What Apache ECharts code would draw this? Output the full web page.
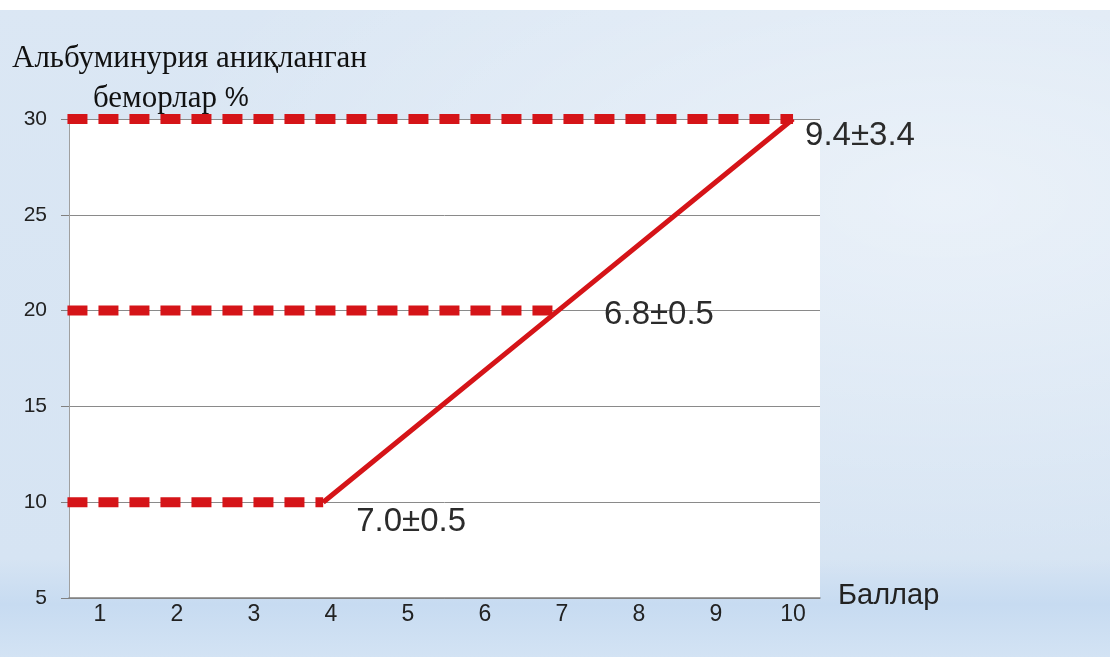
<!DOCTYPE html>
<html>
<head>
<meta charset="utf-8">
<script src="https://cdn.jsdelivr.net/npm/echarts@6/dist/echarts.min.js"></script>
<style>
  html, body { margin: 0; padding: 0; }
  #wrap {
    position: relative;
    width: 1110px;
    height: 657px;
    background:
      radial-gradient(ellipse at 85% 30%, rgba(255,255,255,0.45), rgba(255,255,255,0) 60%),
      linear-gradient(180deg, #dbe7f4 0%, #d6e4f3 85%, #c7dbf1 92%, #d3e3f4 100%);
    overflow: hidden;
  }
  #topband {
    position: absolute; left: 0; top: 0; width: 1110px; height: 10px; background: #fff;
  }
  #chart { position: absolute; left: 0; top: 0; width: 1110px; height: 657px; }
</style>
</head>
<body>
<div id="wrap">
  <div id="topband"></div>
  <div id="chart"></div>
</div>
<script>
// ось X (баллы) и Y (%)
let xTicks = [1, 2, 3, 4, 5, 6, 7, 8, 9, 10];
let yMin = 5, yMax = 30, yStep = 5;

// основная линия
let mainLine = [[3.9, 10], [6.95, 20], [10, 30]];
// пунктирные уровни
let dashLevels = [10, 20, 30];
let dashStart = 0.58;
let dashEnd = [3.9, 6.95, 10];
// подписи у точек
let pointLabels = ['7.0±0.5', '6.8±0.5', '9.4±3.4'];

var chart = echarts.init(document.getElementById('chart'));

var red = '#d51418';
var labelOffsets = [[33, 20], [46, 4], [12, 17]];

var series = [];
dashLevels.forEach(function (lv, i) {
  series.push({
    type: 'line',
    data: [[dashStart, lv], [dashEnd[i], lv]],
    showSymbol: false,
    silent: true,
    lineStyle: { color: red, width: 10, type: [20, 11], cap: 'butt' },
    z: 3
  });
});
series.push({
  type: 'line',
  data: mainLine,
  showSymbol: false,
  lineStyle: { color: red, width: 5 },
  z: 4
});
series.push({
  type: 'scatter',
  symbolSize: 0,
  itemStyle: { opacity: 1 },
  data: mainLine.map(function (p, i) {
    return {
      value: p,
      label: {
        show: true,
        position: 'right',
        distance: 0,
        offset: labelOffsets[i],
        formatter: pointLabels[i]
      }
    };
  }),
  label: {
    color: '#2b2b2b',
    fontSize: 33,
    fontFamily: 'Liberation Sans'
  },
  z: 5
});

chart.setOption({
  animation: false,
  grid: {
    left: 69, right: 290, top: 119, bottom: 59,
    show: true, backgroundColor: '#fff', borderWidth: 0
  },
  xAxis: {
    type: 'value',
    min: 0.6,
    max: 10.35,
    axisLine: { show: true, lineStyle: { color: '#808080', width: 1.5 } },
    axisTick: { show: false },
    splitLine: { show: false },
    axisLabel: {
      customValues: xTicks,
      color: '#222',
      fontSize: 23,
      fontFamily: 'Liberation Sans',
      margin: 5
    }
  },
  yAxis: {
    type: 'value',
    min: yMin,
    max: yMax,
    interval: yStep,
    axisLine: { show: true, lineStyle: { color: '#a0a0a0', width: 1 } },
    axisTick: { show: true, length: 8, lineStyle: { color: '#808080' } },
    splitLine: { show: true, lineStyle: { color: '#8a8a8a', width: 1 } },
    axisLabel: {
      color: '#222',
      fontSize: 21,
      fontFamily: 'Liberation Sans',
      margin: 22
    }
  },
  graphic: [
    {
      type: 'text', left: 12, top: 43,
      style: { text: 'Альбуминурия аниқланган', fill: '#111', font: '31px "Liberation Serif"' }
    },
    {
      type: 'text', left: 93, top: 83,
      style: {
        text: '{a|беморлар }{b|%}',
        rich: {
          a: { fill: '#111', font: '31px "Liberation Serif"' },
          b: { fill: '#111', font: '27px "Liberation Sans"' }
        }
      }
    },
    {
      type: 'text', left: 838, top: 581,
      style: { text: 'Баллар', fill: '#222', font: '29px "Liberation Sans"' }
    }
  ],
  series: series
});
</script>
</body>
</html>
